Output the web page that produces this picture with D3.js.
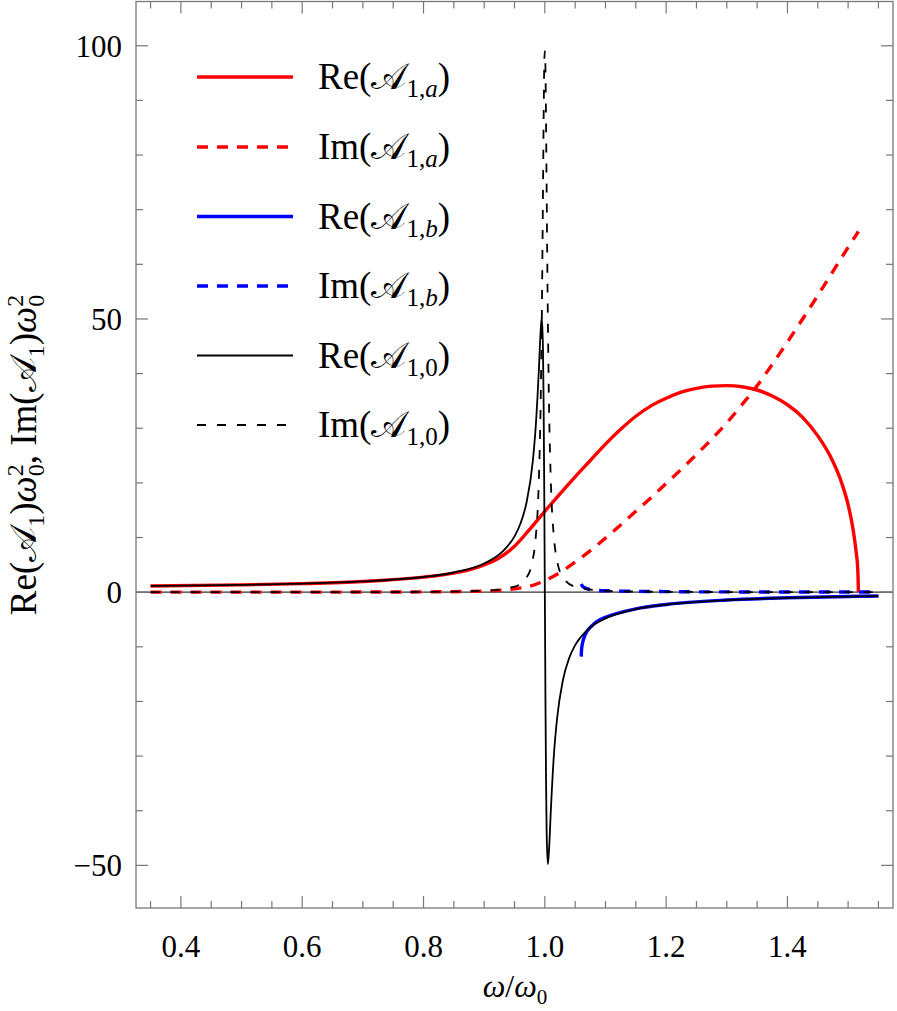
<!DOCTYPE html>
<html>
<head>
<meta charset="utf-8">
<script src="https://cdn.jsdelivr.net/npm/d3@7"></script>
<style>
    body { margin: 0; background: #fff; }
    svg text { font-family: "Liberation Serif", "Times New Roman", serif; fill: #000; }
</style>
</head>
<body>
<div id="content"></div>
<script>
// omega / omega0 and values
var reA_x = [0.35, 0.5, 0.6, 0.7, 0.8, 0.85, 0.875, 0.9, 0.925, 0.95, 0.975, 1.0, 1.025, 1.05, 1.075, 1.1, 1.125, 1.15, 1.175, 1.2, 1.225, 1.25, 1.275, 1.3, 1.325, 1.35, 1.375, 1.4, 1.425, 1.45, 1.47, 1.49, 1.5, 1.508, 1.513, 1.516, 1.517];
var reA_y = [1.14, 1.33, 1.56, 1.95, 2.75, 3.5, 4.1, 5.0, 6.3, 8.4, 11.5, 14.8, 18.0, 21.1, 24.1, 27.1, 29.8, 32.2, 34.1, 35.5, 36.6, 37.3, 37.7, 37.8, 37.6, 37.0, 35.9, 34.3, 32.0, 28.6, 25.0, 19.8, 16.0, 11.6, 7.6, 4.0, 0];

var imA_x = [0.35, 0.6, 0.8, 0.9, 0.95, 0.975, 1.0, 1.025, 1.05, 1.075, 1.1, 1.125, 1.15, 1.175, 1.2, 1.225, 1.25, 1.275, 1.3, 1.325, 1.35, 1.375, 1.4, 1.425, 1.45, 1.475, 1.5, 1.517];
var imA_y = [0, 0.01, 0.05, 0.2, 0.6, 1.1, 2.1, 3.6, 5.5, 7.6, 9.9, 12.3, 14.8, 17.3, 19.9, 22.5, 25.2, 28.0, 31.0, 34.3, 37.8, 41.7, 45.8, 50.0, 54.3, 58.7, 63.1, 66.0];

var reB_x = [1.06, 1.0605, 1.062, 1.065, 1.07, 1.08, 1.09, 1.1, 1.15, 1.2, 1.3, 1.4, 1.5, 1.55];
var reB_y = [-11.8, -10.6, -9.4, -8.2, -7.1, -5.9, -5.1, -4.6, -3.05, -2.25, -1.43, -1.03, -0.79, -0.7];

var imB_x = [1.06, 1.062, 1.065, 1.07, 1.08, 1.1, 1.2, 1.3, 1.55];
var imB_y = [1.5, 1.1, 0.85, 0.6, 0.4, 0.25, 0.1, 0.05, 0.02];

var re0_x = [0.35, 0.4, 0.5, 0.6, 0.7, 0.8, 0.85, 0.9, 0.93, 0.95, 0.96, 0.97, 0.98, 0.985, 0.99, 0.993, 0.995, 0.997, 0.998, 0.999, 1.0, 1.001, 1.002, 1.003, 1.005, 1.007, 1.01, 1.015, 1.02, 1.03, 1.04, 1.05, 1.06, 1.08, 1.1, 1.15, 1.2, 1.3, 1.4, 1.5, 1.55];
var re0_y = [1.14, 1.19, 1.33, 1.56, 1.96, 2.78, 3.6, 5.25, 7.4, 10.2, 12.6, 16.5, 23.8, 30.3, 40.3, 47.6, 50.3, 44.3, 34.6, 19.3, 0, -19.2, -34.4, -44.0, -49.8, -47.0, -39.7, -29.7, -23.3, -16.0, -12.1, -9.7, -8.1, -6.0, -4.8, -3.1, -2.27, -1.45, -1.04, -0.8, -0.71];

var im0_x = [0.35, 0.6, 0.8, 0.9, 0.95, 0.97, 0.98, 0.985, 0.99, 0.993, 0.995, 0.997, 0.998, 0.999, 1.0, 1.001, 1.002, 1.003, 1.005, 1.007, 1.01, 1.015, 1.02, 1.03, 1.05, 1.1, 1.2, 1.4, 1.55];
var im0_y = [0, 0.01, 0.04, 0.25, 1.0, 2.7, 5.9, 10.0, 20.0, 33.9, 50.1, 73.7, 86.3, 96.2, 99.0, 96.1, 86.1, 73.4, 49.9, 33.7, 20.0, 10.0, 5.9, 2.7, 1.0, 0.25, 0.06, 0.01, 0.005];

var xTicks = [0.4, 0.6, 0.8, 1.0, 1.2, 1.4];
var yTicks = [-50, 0, 50, 100];

var series = [
    {x: reA_x, y: reA_y, color: "#ff0000", width: 3.4, dash: null, sub: "a"},
    {x: imA_x, y: imA_y, color: "#ff0000", width: 3.4, dash: "11,9", sub: "a"},
    {x: reB_x, y: reB_y, color: "#0000ff", width: 3.4, dash: null, sub: "b"},
    {x: imB_x, y: imB_y, color: "#0000ff", width: 3.4, dash: "11,9", sub: "b"},
    {x: re0_x, y: re0_y, color: "#000000", width: 1.8, dash: null, sub: "0"},
    {x: im0_x, y: im0_y, color: "#000000", width: 1.8, dash: "9,11", sub: "0"}
];

var W = 897, H = 1011;
var fL = 136, fR = 893, fT = 1.5, fB = 908;

var svg = d3.select("div#content").append("svg")
    .attr("width", W)
    .attr("height", H);

var x = d3.scaleLinear().domain([0.326, 1.574]).range([fL, fR]);
var y = d3.scaleLinear().domain([-57.8, 108.1]).range([fB, fT]);

svg.append("clipPath").attr("id", "clip")
    .append("rect")
    .attr("x", fL).attr("y", fT)
    .attr("width", fR - fL).attr("height", fB - fT);

// zero axis
svg.append("line")
    .attr("x1", fL).attr("x2", fR)
    .attr("y1", y(0)).attr("y2", y(0))
    .attr("stroke", "#333").attr("stroke-width", 1.3);

var line = d3.line()
    .x(function(d) { return x(d[0]); })
    .y(function(d) { return y(d[1]); })
    .curve(d3.curveMonotoneX);

svg.append("g").attr("clip-path", "url(#clip)")
    .selectAll("path")
    .data(series)
    .enter().append("path")
    .attr("d", function(s) {
        return line(s.x.map(function(v, i) { return [v, s.y[i]]; }));
    })
    .attr("fill", "none")
    .attr("stroke", function(s) { return s.color; })
    .attr("stroke-width", function(s) { return s.width; })
    .attr("stroke-dasharray", function(s) { return s.dash; })
    .attr("stroke-linejoin", "round");

// frame with ticks on every side
var tickCol = "#777";
var gx = svg.append("g");
var xMinor = d3.range(0.35, 1.5751, 0.05);
xMinor.forEach(function(v) {
    var major = xTicks.some(function(t) { return Math.abs(t - v) < 1e-6; });
    var len = major ? 12 : 7;
    gx.append("line").attr("x1", x(v)).attr("x2", x(v)).attr("y1", fB).attr("y2", fB - len)
        .attr("stroke", tickCol).attr("stroke-width", 1.2);
    gx.append("line").attr("x1", x(v)).attr("x2", x(v)).attr("y1", fT).attr("y2", fT + len)
        .attr("stroke", tickCol).attr("stroke-width", 1.2);
});
var yMinor = d3.range(-50, 101, 10);
yMinor.forEach(function(v) {
    var major = v % 50 === 0;
    var len = major ? 12 : 7;
    gx.append("line").attr("x1", fL).attr("x2", fL + len).attr("y1", y(v)).attr("y2", y(v))
        .attr("stroke", tickCol).attr("stroke-width", 1.2);
    gx.append("line").attr("x1", fR).attr("x2", fR - len).attr("y1", y(v)).attr("y2", y(v))
        .attr("stroke", tickCol).attr("stroke-width", 1.2);
});
svg.append("rect")
    .attr("x", fL).attr("y", fT)
    .attr("width", fR - fL).attr("height", fB - fT)
    .attr("fill", "none").attr("stroke", tickCol).attr("stroke-width", 1.3);

// tick labels
svg.selectAll(".xl").data(xTicks).enter().append("text")
    .attr("x", function(d) { return x(d); })
    .attr("y", 957)
    .attr("text-anchor", "middle")
    .style("font-size", "31px")
    .text(function(d) { return d.toFixed(1); });

svg.selectAll(".yl").data(yTicks).enter().append("text")
    .attr("x", 122)
    .attr("y", function(d) { return y(d) + 11; })
    .attr("text-anchor", "end")
    .style("font-size", "31px")
    .text(function(d) { return d < 0 ? "\u2212" + Math.abs(d) : d; });

// rich text helper: parts are [text, size, dx, dy, italic]
function rich(t, parts) {
    parts.forEach(function(p) {
        var s = t.append("tspan").text(p[0]).style("font-size", p[1] + "px");
        if (p[2]) s.attr("dx", p[2]);
        if (p[3]) s.attr("dy", p[3]);
        if (p[4]) s.style("font-style", "italic");
    });
}

// axis labels
var xl = svg.append("text").attr("x", 515).attr("y", 997).attr("text-anchor", "middle");
rich(xl, [["\u03c9", 32, 0, 0, 1], ["/", 32], ["\u03c9", 32, 0, 0, 1], ["0", 21, 0, 7]]);

var yl = svg.append("text")
    .attr("transform", "translate(36,455) rotate(-90)")
    .attr("text-anchor", "middle");
rich(yl, [["Re(", 37], ["\ud835\udc9c", 37], ["1", 24, 0, 8], [")", 37, 0, -8],
    ["\u03c9", 37, 0, 0, 1], ["0", 24, 0, 8], ["2", 24, -12, -21], [", Im(", 37, 0, 13],
    ["\ud835\udc9c", 37], ["1", 24, 0, 8], [")", 37, 0, -8],
    ["\u03c9", 37, 0, 0, 1], ["0", 24, 0, 8], ["2", 24, -12, -21]]);

// legend
var rows = [77, 147, 216.5, 286, 355.5, 425];
var lg = svg.append("g");
series.forEach(function(s, i) {
    lg.append("line")
        .attr("x1", 197).attr("x2", 293)
        .attr("y1", rows[i]).attr("y2", rows[i])
        .attr("stroke", s.color).attr("stroke-width", s.width)
        .attr("stroke-dasharray", s.dash);
    var t = lg.append("text").attr("x", 318).attr("y", rows[i] + 12);
    var subParts = s.sub === "0" ? [[",0", 25]] : [[",", 25], [s.sub, 25, 0, 0, 1]];
    var parts = [[i % 2 === 0 ? "Re(" : "Im(", 37], ["\ud835\udc9c", 37], ["1", 25, 0, 8]]
        .concat(subParts).concat([[")", 37, 0, -8]]);
    rich(t, parts);
});
</script>
</body>
</html>
